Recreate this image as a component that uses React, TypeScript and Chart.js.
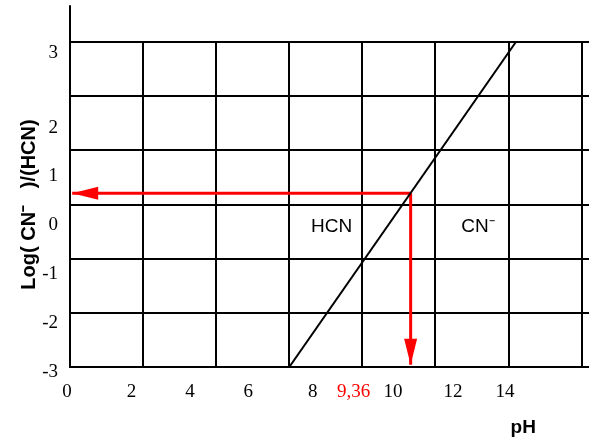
import React, { useEffect, useRef } from 'react';
import { Chart, registerables } from 'chart.js';

Chart.register(...registerables);

// Grid (in grid-cell units)
const gridCols = [0, 1, 2, 3, 4, 5, 6, 7];
const gridRows = [0, 1, 2, 3, 4, 5, 6];
const xMax = 7.1;
const yMax = 6;
const yAxisTop = 6.68;

// Tick labels as printed on the figure and where they sit
const xTickLabels = ['0', '2', '4', '6', '8', '9,36', '10', '12', '14'];
const xTickPos = [-0.04, 0.84, 1.64, 2.44, 3.32, 3.88, 4.42, 5.24, 5.95];
const yTickLabels = ['3', '2', '1', '0', '-1', '-2', '-3'];
const yTickPos = [5.79, 4.41, 3.52, 2.62, 1.71, 0.82, -0.09];

// Diagonal line log(CN-/HCN) vs pH
const diagX = [3, 6.1];
const diagY = [0, 6];

// Red arrows (from the corner on the line to the axes)
const arrowHX = [4.66, 0.03];
const arrowHY = [3.21, 3.21];
const arrowVX = [4.66, 4.66];
const arrowVY = [3.21, 0.04];

// Text annotations
const noteTexts = ['HCN', 'CN\u207B', 'pH'];
const noteX = [3.58, 5.58, 6.2];
const noteY = [2.58, 2.58, -1.12];

const RED = '#ff0000';
const SANS = '"Liberation Sans", Arial, sans-serif';
const SERIF = '"Liberation Serif", "Times New Roman", serif';

const pts = (xs: number[], ys: number[]) => xs.map((x, i) => ({ x, y: ys[i] }));

const arrowPlugin = {
  id: 'arrowHeads',
  afterDatasetsDraw(chart: any) {
    const ctx = chart.ctx;
    chart.data.datasets.forEach((ds: any, di: number) => {
      if (!ds.arrow) return;
      const meta = chart.getDatasetMeta(di);
      const n = meta.data.length;
      if (n < 2) return;
      const a = meta.data[n - 2];
      const b = meta.data[n - 1];
      const ang = Math.atan2(b.y - a.y, b.x - a.x);
      const len = 26;
      const hw = 6.5;
      const bx = b.x - Math.cos(ang) * len;
      const by = b.y - Math.sin(ang) * len;
      ctx.save();
      ctx.fillStyle = ds.borderColor;
      ctx.beginPath();
      ctx.moveTo(b.x, b.y);
      ctx.lineTo(bx - Math.sin(ang) * hw, by + Math.cos(ang) * hw);
      ctx.lineTo(bx + Math.sin(ang) * hw, by - Math.cos(ang) * hw);
      ctx.closePath();
      ctx.fill();
      ctx.restore();
    });
  },
};

const notesPlugin = {
  id: 'notes',
  afterDraw(chart: any) {
    const ctx = chart.ctx;
    const xs = chart.scales.x;
    const ys = chart.scales.y;
    ctx.save();
    ctx.fillStyle = '#000';
    ctx.textAlign = 'center';
    ctx.textBaseline = 'middle';
    noteTexts.forEach((t, i) => {
      ctx.font = t === 'pH' ? `bold 19px ${SANS}` : `19px ${SANS}`;
      ctx.fillText(t, xs.getPixelForValue(noteX[i]), ys.getPixelForValue(noteY[i]));
    });
    ctx.restore();
  },
};

export default function App() {
  const ref = useRef<HTMLCanvasElement | null>(null);

  useEffect(() => {
    if (!ref.current) return;
    const chart = new Chart(ref.current, {
      type: 'line',
      data: {
        datasets: [
          {
            data: pts(diagX, diagY),
            borderColor: '#000',
            borderWidth: 2,
            pointRadius: 0,
            xAxisID: 'x',
            yAxisID: 'y',
          },
          {
            data: pts([0, 0], [yMax, yAxisTop]),
            borderColor: '#000',
            borderWidth: 2,
            pointRadius: 0,
            clip: false,
            xAxisID: 'x',
            yAxisID: 'y',
          },
          {
            data: pts(arrowHX, arrowHY),
            borderColor: RED,
            borderWidth: 3,
            pointRadius: 0,
            arrow: true,
            xAxisID: 'x',
            yAxisID: 'y',
          } as any,
          {
            data: pts(arrowVX, arrowVY),
            borderColor: RED,
            borderWidth: 3,
            pointRadius: 0,
            arrow: true,
            xAxisID: 'x',
            yAxisID: 'y',
          } as any,
        ],
      },
      options: {
        responsive: false,
        animation: false,
        devicePixelRatio: 1,
        layout: { padding: { top: 42, left: 0, right: 0, bottom: 0 } },
        plugins: { legend: { display: false }, tooltip: { enabled: false } },
        elements: { line: { tension: 0, borderCapStyle: 'butt' } },
        scales: {
          x: {
            type: 'linear',
            position: 'bottom',
            weight: 0,
            min: 0,
            max: xMax,
            afterBuildTicks: (s: any) => {
              s.ticks = gridCols.map((v) => ({ value: v }));
            },
            afterFit: (s: any) => {
              s.height = 0;
            },
            grid: { color: '#000', lineWidth: 2, drawTicks: false },
            border: { display: true, color: '#000', width: 2 },
            ticks: { display: false },
          },
          xl: {
            type: 'linear',
            position: 'bottom',
            weight: 1,
            min: 0,
            max: xMax,
            afterBuildTicks: (s: any) => {
              s.ticks = xTickPos.map((v) => ({ value: v }));
            },
            afterFit: (s: any) => {
              s.height = 76;
            },
            grid: { display: false, drawTicks: false },
            border: { display: false },
            ticks: {
              autoSkip: false,
              maxRotation: 0,
              padding: 14,
              font: { family: SERIF, size: 19 },
              color: (c: any) => (c.index === 5 ? RED : '#000'),
              callback: (_v: any, i: number) => xTickLabels[i],
            },
          },
          y: {
            type: 'linear',
            position: 'left',
            weight: 0,
            min: 0,
            max: yMax,
            afterBuildTicks: (s: any) => {
              s.ticks = gridRows.map((v) => ({ value: v }));
            },
            afterFit: (s: any) => {
              s.width = 0;
            },
            grid: { color: '#000', lineWidth: 2, drawTicks: false },
            border: { display: true, color: '#000', width: 2 },
            ticks: { display: false },
          },
          yl: {
            type: 'linear',
            position: 'left',
            weight: 1,
            min: 0,
            max: yMax,
            afterBuildTicks: (s: any) => {
              s.ticks = yTickPos.map((v) => ({ value: v }));
            },
            afterFit: (s: any) => {
              s.width = 70;
            },
            grid: { display: false, drawTicks: false },
            border: { display: false },
            ticks: {
              autoSkip: false,
              padding: 12,
              font: { family: SERIF, size: 19 },
              color: '#000',
              callback: (_v: any, i: number) => yTickLabels[i],
            },
            title: {
              display: true,
              text: 'Log( CN\u207B   )/(HCN)',
              color: '#000',
              font: { family: SANS, size: 20, weight: 'bold' },
              padding: { top: 17, bottom: 0 },
            },
          },
        },
      },
      plugins: [arrowPlugin, notesPlugin],
    } as any);
    return () => chart.destroy();
  }, []);

  return (
    <div style={{ position: 'fixed', left: 0, top: 0, width: 589, height: 443, background: '#fff' }}>
      <canvas ref={ref} width={589} height={443} />
    </div>
  );
}
